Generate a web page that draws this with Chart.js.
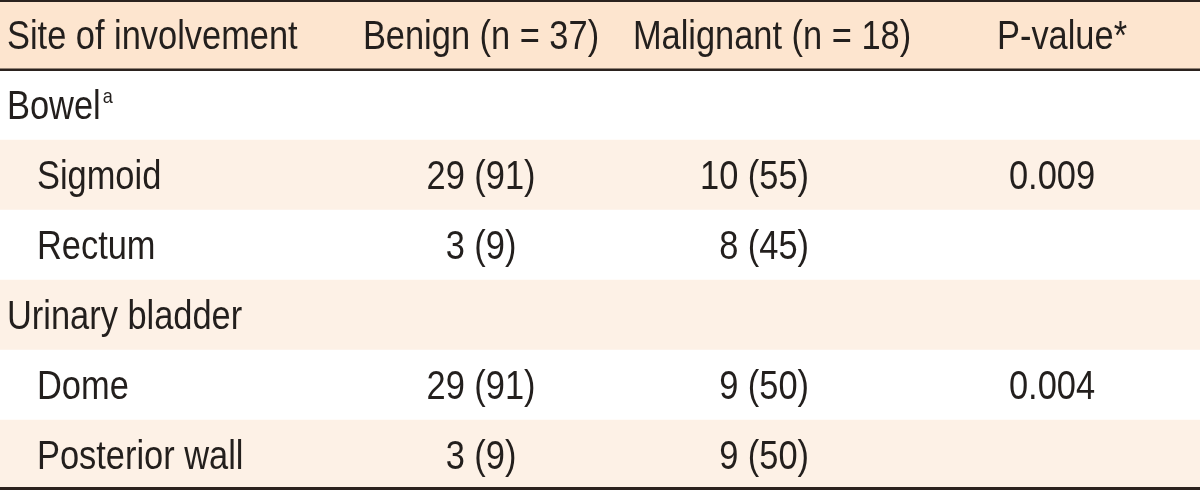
<!DOCTYPE html>
<html>
<head>
<meta charset="utf-8">
<script src="https://cdn.jsdelivr.net/npm/chart.js@4"></script>
<style>
  html, body { margin: 0; padding: 0; background: #fff; }
  #wrap { width: 1200px; height: 490px; position: relative; }
</style>
</head>
<body>
<div id="wrap"><canvas id="table-chart"></canvas></div>
<script>
// table content
const headers = ['Site of involvement', 'Benign (n = 37)', 'Malignant (n = 18)', 'P-value*'];
const sites = ['Bowel', 'Sigmoid', 'Rectum', 'Urinary bladder', 'Dome', 'Posterior wall'];
const siteLevel = [0, 1, 1, 0, 1, 1];
const siteNote = ['a', '', '', '', '', ''];
const benignN = [null, 29, 3, null, 29, 3];
const benignPct = [null, 91, 9, null, 91, 9];
const malignantN = [null, 10, 8, null, 9, 9];
const malignantPct = [null, 55, 45, null, 50, 50];
const pValues = [null, '0.009', null, null, '0.004', null];

const rowKeys = ['header'].concat(sites);

const HEADER_BG = '#fde5cf';
const STRIPE_BG = '#fdf1e6';
const LINE = '#2b221e';
const TEXT = '#231f1d';
const FONT = '"Liberation Sans", Arial, sans-serif';
const SQUEEZE = 0.86; // fake a condensed face

// x positions of columns (layout, not data)
const col = { site: 7, indent: 37, benign: 481, malHead: 772, malRight: 809, pHead: 1062, p: 1052 };

const rowColors = rowKeys.map((k, i) => i === 0 ? HEADER_BG : (i % 2 === 0 ? STRIPE_BG : '#ffffff'));

function cell(n, pct) {
    return n == null ? '' : n + ' (' + pct + ')';
}

function text(ctx, str, x, y, align, size) {
    ctx.save();
    ctx.font = size + 'px ' + FONT;
    ctx.textAlign = align;
    ctx.translate(x, y);
    ctx.scale(SQUEEZE, 1);
    ctx.fillText(str, 0, 0);
    const w = ctx.measureText(str).width * SQUEEZE;
    ctx.restore();
    return w;
}

const tablePlugin = {
    id: 'tableText',
    afterDatasetsDraw(chart) {
        const ctx = chart.ctx;
        const y = chart.scales.y;
        const area = chart.chartArea;
        const base = 14; // baseline below row centre
        const fs = 40;

        ctx.save();
        ctx.fillStyle = TEXT;
        ctx.textBaseline = 'alphabetic';

        // header
        let cy = y.getPixelForValue(0) + base;
        text(ctx, headers[0], col.site, cy, 'left', fs);
        text(ctx, headers[1], col.benign, cy, 'center', fs);
        text(ctx, headers[2], col.malHead, cy, 'center', fs);
        text(ctx, headers[3], col.pHead, cy, 'center', fs);

        // body rows
        sites.forEach((s, i) => {
            cy = y.getPixelForValue(i + 1) + base;
            const x = siteLevel[i] ? col.indent : col.site;
            const w = text(ctx, s, x, cy, 'left', fs);
            if (siteNote[i]) {
                text(ctx, siteNote[i], x + w + 2, cy - 16, 'left', 21);
            }
            text(ctx, cell(benignN[i], benignPct[i]), col.benign, cy, 'center', fs);
            text(ctx, cell(malignantN[i], malignantPct[i]), col.malRight, cy, 'right', fs);
            if (pValues[i]) {
                text(ctx, pValues[i], col.p, cy, 'center', fs);
            }
        });

        // rules
        const mid = (y.getPixelForValue(0) + y.getPixelForValue(1)) / 2;
        ctx.fillStyle = LINE;
        ctx.fillRect(area.left, area.top, area.right - area.left, 2);
        ctx.fillRect(area.left, mid - 1.5, area.right - area.left, 2.5);
        ctx.fillRect(area.left, area.bottom - 3, area.right - area.left, 3);
        ctx.restore();
    }
};

new Chart(document.getElementById('table-chart'), {
    type: 'bar',
    data: {
        labels: rowKeys,
        datasets: [{
            data: rowKeys.map(() => 1),
            backgroundColor: rowColors,
            borderWidth: 0,
            barPercentage: 1,
            categoryPercentage: 1
        }]
    },
    options: {
        indexAxis: 'y',
        responsive: true,
        maintainAspectRatio: false,
        animation: false,
        layout: { padding: 0 },
        plugins: { legend: { display: false }, tooltip: { enabled: false } },
        scales: {
            x: { display: false, min: 0, max: 1 },
            y: { display: false }
        }
    },
    plugins: [tablePlugin]
});
</script>
</body>
</html>
